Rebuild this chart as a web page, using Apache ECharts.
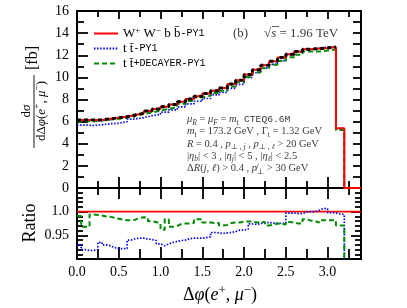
<!DOCTYPE html>
<html><head><meta charset="utf-8">
<script src="https://cdn.jsdelivr.net/npm/echarts@6/dist/echarts.min.js"></script>
<style>html,body{margin:0;padding:0;background:#fff}#c{width:407px;height:308px}</style>
</head><body><div id="c"></div>
<script>
// ---------------- data ----------------
const xMin = 0, xMax = 3.4;
const mainBinWidth = 0.1;
const ratioBinWidth = 0.05;
// W+W-bb-PY1 (red), 0.1 bins from 0 to 3.2
const redMain = [6.15,6.15,6.15,6.25,6.35,6.45,6.6,6.75,6.95,7.15,7.35,7.55,7.8,8.05,8.3,8.55,8.8,9.05,9.4,9.75,10.25,10.7,11.1,11.45,11.8,12.1,12.35,12.55,12.6,12.65,12.75,5.4];
// black dashed overlay curve (not in legend)
const blackMain = [6.15,6.15,6.15,6.25,6.35,6.45,6.6,6.75,6.95,7.15,7.35,7.55,7.8,8.05,8.3,8.55,8.8,9.05,9.4,9.75,10.25,10.7,11.1,11.45,11.8,12.1,12.35,12.55,12.6,12.65,12.75];
// tt-PY1 (blue dotted)
const blueMain = [5.69,5.65,5.71,5.81,5.85,6.00,6.23,6.37,6.53,6.65,6.86,7.07,7.33,7.60,7.84,8.09,8.41,8.64,9.00,9.37,9.98,10.42,10.84,11.18,11.52,12.06,12.30,12.55,12.63,12.73,12.72,5.37];
// tt+DECAYER-PY1 (green dashed)
const greenMain = [6.03,6.03,6.11,6.19,6.26,6.34,6.48,6.67,6.84,6.99,7.15,7.32,7.61,7.86,8.17,8.35,8.59,8.80,9.18,9.55,10.03,10.46,10.82,11.15,11.49,11.83,12.04,12.34,12.34,12.42,12.52,5.24];
// ratio panel, 0.05 bins from 0 to 3.2
const refRatio = 1.0;
const blueRatio = [0.930,0.920,0.918,0.918,0.920,0.935,0.930,0.928,0.924,0.922,0.922,0.922,0.940,0.943,0.944,0.944,0.942,0.941,0.939,0.932,
  0.928,0.932,0.935,0.937,0.939,0.940,0.943,0.944,0.944,0.944,0.945,0.947,0.956,0.955,0.954,0.955,0.956,0.958,0.961,0.961,
  0.963,0.974,0.973,0.975,0.977,0.977,0.976,0.976,0.975,0.976,0.997,0.997,0.996,0.996,0.999,1.000,1.000,1.003,1.007,1.006,
  0.998,0.997,0.995,0.994];
const greenRatio = [0.991,0.968,0.968,0.994,0.993,0.992,0.990,0.989,0.987,0.985,0.983,0.982,0.982,0.983,0.987,0.988,0.987,0.980,0.978,0.975,
  0.962,0.984,0.968,0.970,0.974,0.975,0.975,0.976,0.984,0.984,0.977,0.977,0.976,0.976,0.971,0.972,0.976,0.977,0.977,0.979,
  0.979,0.979,0.977,0.978,0.978,0.971,0.972,0.975,0.974,0.973,0.978,0.977,0.975,0.975,0.984,0.981,0.980,0.977,0.982,0.982,
  0.982,0.982,0.971,0.971];
const xMajorTicks = [0, 0.5, 1.0, 1.5, 2.0, 2.5, 3.0];
const xMinorTicks = [0.25, 0.75, 1.25, 1.75, 2.25, 2.75, 3.25];
const yMainLabels = [0,2,4,6,8,10,12,14,16];
const ratioLabels = ['0.95','1.0'];

// ---------------- helpers ----------------
const SERIF = "'Liberation Serif','DejaVu Serif',serif";
const MONO = "'Liberation Mono','DejaVu Sans Mono',monospace";
function hist(vals, w, dropTo, tailTo) {
  const d = vals.map((v, i) => [+(i * w).toFixed(4), v]);
  if (dropTo !== undefined) d.push([+(vals.length * w).toFixed(4), dropTo]);
  if (tailTo !== undefined) d.push([tailTo, dropTo]);
  else if (dropTo === undefined) d.push([+(vals.length * w).toFixed(4), vals[vals.length - 1]]);
  return d;
}
const tickLS = {color:'#000', width:1.8};
function xAxis(grid, pos, ticks, len, opts) {
  opts = opts || {};
  return {
    type:'value', gridIndex:grid, position:pos, min:xMin, max:xMax, interval:0.5,
    axisLine:{show:!!opts.line, onZero:false, lineStyle:{color:'#000', width:2}},
    axisTick:{show:true, inside:true, length:len, lineStyle:tickLS, customValues:ticks},
    axisLabel:opts.labels ? {show:true, customValues:xMajorTicks, formatter:v=>(+v).toFixed(1),
      fontFamily:SERIF, fontSize:14, color:'#000', margin:6} : {show:false},
    splitLine:{show:false}
  };
}
const AN = '#3a3a3a';
function rich(fs, color) {
  return {
    n:{fontFamily:SERIF, fontSize:fs, fill:color, lineHeight:fs+4},
    i:{fontFamily:SERIF, fontSize:fs, fontStyle:'italic', fill:color, lineHeight:fs+4},
    s:{fontFamily:SERIF, fontSize:fs*0.72, fontStyle:'italic', fill:color, lineHeight:fs*0.9, verticalAlign:'bottom'},
    sr:{fontFamily:SERIF, fontSize:fs*0.72, fill:color, lineHeight:fs*0.9, verticalAlign:'bottom'},
    u:{fontFamily:SERIF, fontSize:fs*0.72, fill:color, lineHeight:fs*0.9, verticalAlign:'top'},
    t:{fontFamily:MONO, fontSize:fs*0.92, fill:color, lineHeight:fs+4}
  };
}
function txt(x, y, text, fs, color, opt) {
  opt = opt || {};
  return {type:'text', x:x, y:y, rotation:opt.rot || 0, silent:true, z:100,
    style:{text:text, x:0, y:0, textAlign:opt.align || 'left', textVerticalAlign:'middle',
      fontFamily:SERIF, fontSize:fs, fill:color, rich:rich(fs, color)}};
}

const chart = echarts.init(document.getElementById('c'), null, {renderer:'canvas'});
const G0 = {left:77, top:11, width:284, height:177, outerBoundsMode:'none'};
const G1 = {left:77, top:188, width:284, height:71, outerBoundsMode:'none'};

const legendNames = {
  'WWbb':'{s|W}{u|+}{s| W}{u|−}{s| b b\u0304}{m|-PY1}',
  'tt':'{s|t t\u0304}{m|-PY1}',
  'ttdec':'{s|t t\u0304}{m|+DECAYER-PY1}'
};

const option = {
  animation:false,
  backgroundColor:'#fff',
  grid:[G0, G1, Object.assign({}, G0), Object.assign({}, G1)],
  xAxis:[
    xAxis(0,'bottom',xMajorTicks,11,{line:true}),
    xAxis(0,'top',xMajorTicks,8,{line:true}),
    xAxis(1,'top',xMajorTicks,11,{line:true}),
    xAxis(1,'bottom',xMajorTicks,12,{line:true, labels:true}),
    xAxis(2,'bottom',xMinorTicks,7),
    xAxis(2,'top',xMinorTicks,6),
    xAxis(3,'top',xMinorTicks,7),
    xAxis(3,'bottom',xMinorTicks,10)
  ],
  yAxis:[
    {type:'value', gridIndex:0, position:'left', min:0, max:16, interval:2,
      axisLine:{show:true, onZero:false, lineStyle:{color:'#000', width:2}},
      axisTick:{show:true, inside:true, length:11, lineStyle:tickLS},
      minorTick:{show:true, splitNumber:2, length:7, lineStyle:tickLS},
      axisLabel:{show:true, fontFamily:SERIF, fontSize:14, color:'#000', margin:8,
        formatter:v=> yMainLabels.indexOf(Math.round(v)) >= 0 ? String(Math.round(v)) : ''},
      splitLine:{show:false}},
    {type:'value', gridIndex:0, position:'right', min:0, max:16, interval:1,
      axisLine:{show:true, onZero:false, lineStyle:{color:'#000', width:2}},
      axisTick:{show:true, inside:true, length:8, lineStyle:tickLS},
      axisLabel:{show:false}, splitLine:{show:false}},
    {type:'value', gridIndex:1, position:'left', min:0.9, max:1.05, interval:0.05,
      axisLine:{show:true, onZero:false, lineStyle:{color:'#000', width:2}},
      axisTick:{show:true, inside:true, length:11, lineStyle:tickLS},
      minorTick:{show:true, splitNumber:5, length:6, lineStyle:tickLS},
      axisLabel:{show:true, fontFamily:SERIF, fontSize:14, color:'#000', margin:8,
        formatter:v=>{ const s = Math.abs(v-1) < 1e-6 ? '1.0' : (Math.abs(v-0.95) < 1e-6 ? '0.95' : ''); return ratioLabels.indexOf(s) >= 0 ? s : ''; }},
      splitLine:{show:false}},
    {type:'value', gridIndex:1, position:'right', min:0.9, max:1.05, interval:0.05,
      axisLine:{show:true, onZero:false, lineStyle:{color:'#000', width:2}},
      axisTick:{show:true, inside:true, length:10, lineStyle:tickLS},
      minorTick:{show:true, splitNumber:5, length:6, lineStyle:tickLS},
      axisLabel:{show:false}, splitLine:{show:false}},
    {type:'value', gridIndex:2, min:0, max:16, show:false},
    {type:'value', gridIndex:3, min:0.9, max:1.05, show:false}
  ],
  legend:{
    show:true, orient:'vertical', left:93, top:26.5, padding:0, itemGap:2,
    itemWidth:24, itemHeight:14, selectedMode:false,
    itemStyle:{opacity:0, borderWidth:0},
    lineStyle:{opacity:1},
    data:['WWbb','tt','ttdec'],
    formatter:n=>legendNames[n],
    textStyle:{color:'#000', rich:{
      s:{fontFamily:SERIF, fontSize:13, color:'#000', lineHeight:14},
      u:{fontFamily:SERIF, fontSize:9, color:'#000', lineHeight:8, verticalAlign:'top'},
      m:{fontFamily:MONO, fontSize:10, color:'#000', lineHeight:14}
    }}
  },
  series:[
    {name:'tt', type:'line', xAxisIndex:0, yAxisIndex:0, step:'end', symbol:'none', z:2,
      data:hist(blueMain, mainBinWidth, 0, xMax),
      lineStyle:{color:'#0000ff', width:1.7, type:[1.5,1.6]}, itemStyle:{color:'#0000ff'}},
    {name:'ttdec', type:'line', xAxisIndex:0, yAxisIndex:0, step:'end', symbol:'none', z:3,
      data:hist(greenMain, mainBinWidth, 0, xMax),
      lineStyle:{color:'#008c00', width:2, type:[5,3]}, itemStyle:{color:'#008c00'}},
    {name:'WWbb', type:'line', xAxisIndex:0, yAxisIndex:0, step:'end', symbol:'none', z:4,
      data:hist(redMain, mainBinWidth, 0, xMax),
      lineStyle:{color:'#ff0000', width:2}, itemStyle:{color:'#ff0000'}},
    {name:'black', type:'line', xAxisIndex:0, yAxisIndex:0, step:'end', symbol:'none', z:5,
      data:hist(blackMain, mainBinWidth),
      lineStyle:{color:'#000', width:3, type:[4,3]}, itemStyle:{color:'#000'}},
    {name:'WWbb', type:'line', xAxisIndex:3, yAxisIndex:2, symbol:'none', z:2,
      data:[[xMin, refRatio],[xMax, refRatio]],
      lineStyle:{color:'#ff0000', width:1.8}, itemStyle:{color:'#ff0000'}},
    {name:'tt', type:'line', xAxisIndex:3, yAxisIndex:2, step:'end', symbol:'none', z:3,
      data:hist(blueRatio, ratioBinWidth, 0),
      lineStyle:{color:'#0000ff', width:1.7, type:[1.5,1.6]}, itemStyle:{color:'#0000ff'}},
    {name:'ttdec', type:'line', xAxisIndex:3, yAxisIndex:2, step:'end', symbol:'none', z:4,
      data:hist(greenRatio, ratioBinWidth, 0),
      lineStyle:{color:'#008c00', width:2, type:[5,3]}, itemStyle:{color:'#008c00'}}
  ],
  graphic:{elements:[
    txt(233, 34, '{n|(b)}', 13, AN),
    txt(264, 34, '{n|√}{i|s}{n| = 1.96 TeV}', 13, AN),
    {type:'line', silent:true, z:100, shape:{x1:272, y1:26.5, x2:279, y2:26.5}, style:{stroke:AN, lineWidth:0.8}},
    txt(187, 119.5, '{i|μ}{s|R}{n| = }{i|μ}{s|F}{n| = }{i|m}{sr|t}{n|  }{t|CTEQ6.6M}', 10.5, AN),
    txt(187, 131.7, '{i|m}{sr|t}{n| = 173.2 GeV , Γ}{sr|t}{n| = 1.32 GeV}', 10.5, AN),
    txt(187, 144, '{i|R}{n| = 0.4 , }{i|p}{s|⊥ , j}{n| , }{i|p}{s|⊥ , ℓ}{n| > 20 GeV}', 10.5, AN),
    txt(187, 156, '{n||}{i|η}{s|b}{n|| < 3 , |}{i|η}{s|j}{n|| < 5 , |}{i|η}{s|ℓ}{n|| < 2.5}', 10.5, AN),
    txt(187, 168.3, '{n|Δ}{i|R}{n|(}{i|j}{n|, }{i|ℓ}{n|) > 0.4 , }{i|p\u0338}{sr|⊥}{n| > 30 GeV}', 10.5, AN),
    // y-axis title (rotated)
    txt(33, 58, '{n|[fb]}', 16, '#000', {rot:Math.PI/2, align:'center'}),
    txt(27, 111, '{n|d}{i|σ}', 13, '#000', {rot:Math.PI/2, align:'center'}),
    {type:'line', silent:true, z:100, shape:{x1:34, y1:75, x2:34, y2:148}, style:{stroke:'#000', lineWidth:0.9}},
    txt(42, 111, '{n|dΔ}{i|φ}{n|(}{i|e}{u|+}{n|, }{i|μ}{u|−}{n|)}', 13, '#000', {rot:Math.PI/2, align:'center'}),
    txt(30, 223, '{n|Ratio}', 18, '#000', {rot:Math.PI/2, align:'center'}),
    txt(220, 295, '{n|Δ}{i|φ}{n|(}{i|e}{u|+}{n|, }{i|μ}{u|−}{n|)}', 18, '#000', {align:'center'})
  ]}
};
chart.setOption(option);
</script></body></html>
